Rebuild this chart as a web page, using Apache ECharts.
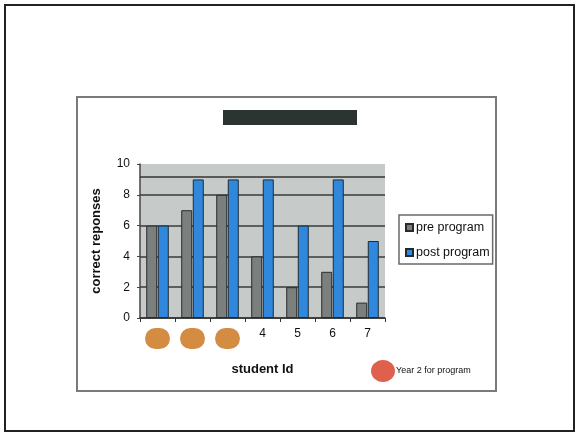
<!DOCTYPE html>
<html>
<head>
<meta charset="utf-8">
<script src="https://cdn.jsdelivr.net/npm/echarts@6/dist/echarts.min.js"></script>
<style>
  html, body { margin: 0; padding: 0; background: #ffffff; }
  #chart { width: 576px; height: 433px; }
</style>
</head>
<body>
<div id="chart"></div>
<script>
// Student ids along the x axis; the first three took the program in its second year
const studentIds = ['1', '2', '3', '4', '5', '6', '7'];
const year2Students = [true, true, true, false, false, false, false];

// Correct responses before and after the program
const preProgram = [6, 7, 8, 4, 2, 3, 1];
const postProgram = [6, 9, 9, 9, 6, 9, 5];

const yTicks = [0, 2, 4, 6, 8, 10];
const referenceLevel = 9.15;

const chart = echarts.init(document.getElementById('chart'), null, { renderer: 'canvas' });

const FONT = 'Liberation Sans, Arial, sans-serif';

chart.setOption({
  backgroundColor: '#ffffff',
  animation: false,
  textStyle: { fontFamily: FONT },
  grid: {
    left: 140, right: 191, top: 164, bottom: 115,
    show: true,
    backgroundColor: '#c6cbca',
    borderWidth: 0
  },
  legend: {
    orient: 'vertical',
    left: 399, top: 215,
    padding: [6, 3, 5, 6],
    itemGap: 12,
    itemWidth: 7, itemHeight: 7,
    icon: 'rect',
    borderColor: '#6a6a6a', borderWidth: 1.5,
    textStyle: { fontFamily: FONT, fontSize: 12.5, color: '#111', padding: [0, 0, 0, -2] },
    data: ['pre program', 'post program']
  },
  xAxis: {
    type: 'category',
    data: studentIds,
    name: 'student Id',
    nameLocation: 'middle',
    nameGap: 45,
    nameTextStyle: { fontFamily: FONT, fontSize: 13, fontWeight: 'bold', color: '#111' },
    axisLine: { lineStyle: { color: '#333', width: 1.5 } },
    axisTick: { show: true, length: 4, lineStyle: { color: '#333' } },
    axisLabel: {
      interval: 0,
      margin: 10,
      fontFamily: FONT, fontSize: 12, color: '#111',
      formatter: function (v, i) { return year2Students[i] ? '{dot|}' : v; },
      rich: {
        dot: { width: 25, height: 21, borderRadius: 11, backgroundColor: '#d48b42' }
      }
    },
    splitLine: { show: false }
  },
  yAxis: {
    type: 'value',
    min: yTicks[0], max: yTicks[yTicks.length - 1], interval: 2,
    name: 'correct reponses',
    nameLocation: 'middle',
    nameGap: 37,
    nameTextStyle: { fontFamily: FONT, fontSize: 13, fontWeight: 'bold', color: '#111' },
    axisLine: { show: true, lineStyle: { color: '#444', width: 1.5 } },
    axisTick: { show: true, length: 3, lineStyle: { color: '#444' } },
    axisLabel: { fontFamily: FONT, fontSize: 12, color: '#111', margin: 10 },
    splitLine: {
      show: true,
      lineStyle: { color: ['#3a3a3a', '#3a3a3a', '#3a3a3a', '#3a3a3a', '#3a3a3a', 'rgba(0,0,0,0)'], width: 1.5 }
    }
  },
  series: [
    {
      name: 'pre program',
      type: 'bar',
      data: preProgram,
      barWidth: 11,
      barGap: '5%',
      itemStyle: { color: '#7b7f7e', borderColor: '#2a2a2a', borderWidth: 1 },
      markLine: {
        silent: true,
        symbol: 'none',
        label: { show: false },
        lineStyle: { color: '#333', width: 1.5, type: 'solid' },
        data: [{ yAxis: referenceLevel }]
      }
    },
    {
      name: 'post program',
      type: 'bar',
      data: postProgram,
      barWidth: 11,
      barGap: '5%',
      itemStyle: { color: '#2f88dc', borderColor: '#1f2a33', borderWidth: 1 }
    }
  ],
  graphic: [
    // slide border
    { type: 'rect', shape: { x: 5, y: 5, width: 569, height: 426 }, style: { fill: 'none', stroke: '#222', lineWidth: 2 }, silent: true },
    // chart frame
    { type: 'rect', shape: { x: 77, y: 97, width: 419, height: 294 }, style: { fill: 'none', stroke: '#7a7a7a', lineWidth: 2 }, silent: true },
    // title bar
    { type: 'rect', shape: { x: 223, y: 110, width: 134, height: 15 }, style: { fill: '#2b3430' }, silent: true },
    // key for the marked students
    { type: 'ellipse', shape: { cx: 383, cy: 371, rx: 12, ry: 11 }, style: { fill: '#de604d' }, silent: true },
    { type: 'text', x: 396, y: 371, style: { text: 'Year 2 for program', font: '9px ' + FONT, fill: '#111', verticalAlign: 'middle' }, silent: true }
  ]
});
</script>
</body>
</html>
